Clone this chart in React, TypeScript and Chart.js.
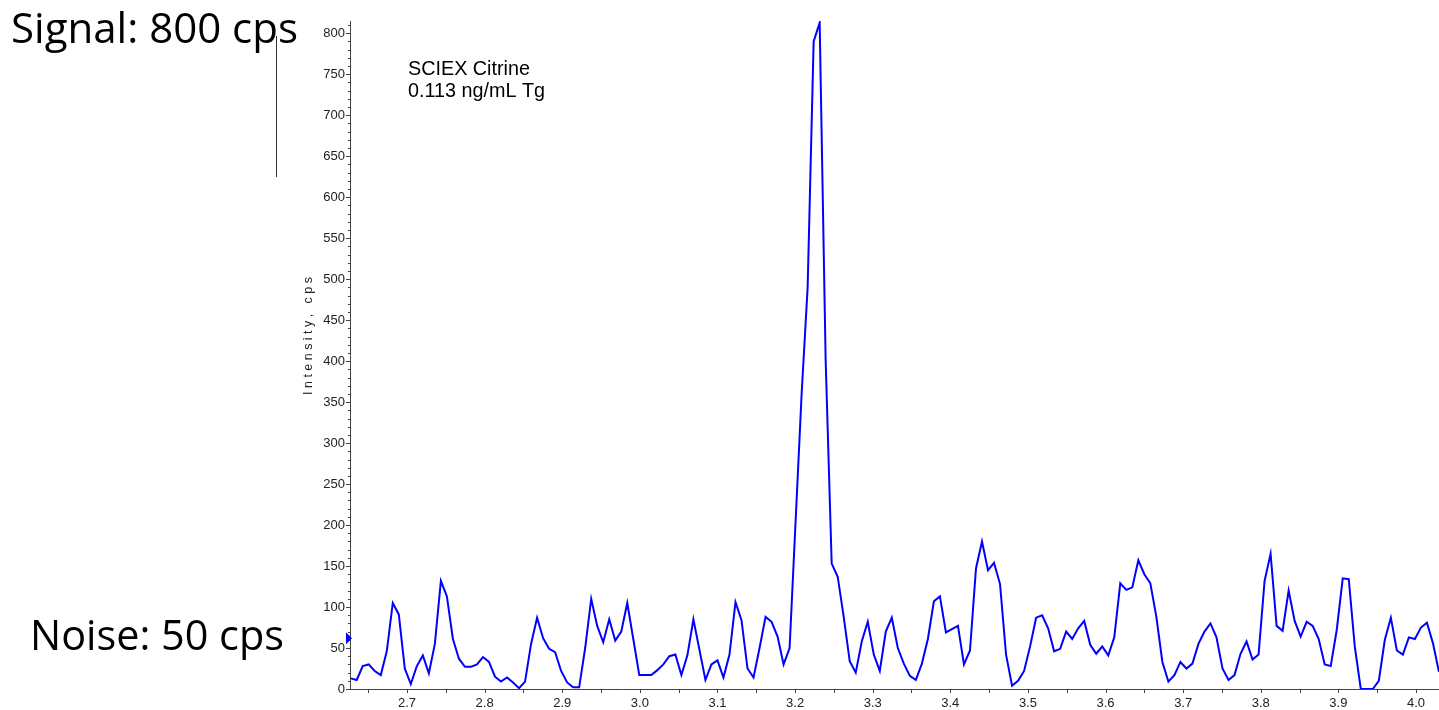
import React, { useEffect, useRef } from "react";
import { Chart, registerables } from "chart.js";

Chart.register(...registerables);

// Intensity (cps) of each scan
const intensity: number[] = [
  13, 11, 28, 30, 22, 17, 46, 105, 91, 25,
  6, 28, 41, 19, 55, 132, 113, 61, 37, 27,
  27, 30, 39, 33, 15, 9, 14, 8, 1, 9,
  55, 87, 62, 49, 45, 22, 8, 2, 2, 50,
  110, 77, 57, 85, 59, 70, 105, 61, 17, 17,
  17, 23, 30, 40, 42, 17, 41, 85, 48, 11,
  30, 35, 14, 42, 106, 84, 25, 14, 50, 88,
  82, 64, 30, 50, 205, 360, 490, 790, 813, 400,
  153, 137, 88, 34, 20, 58, 82, 42, 22, 70,
  87, 50, 31, 16, 11, 31, 61, 107, 113, 69,
  73, 77, 30, 47, 147, 180, 145, 154, 128, 42,
  4, 10, 22, 52, 87, 90, 74, 46, 49, 70,
  61, 74, 83, 54, 43, 52, 41, 63, 129, 121,
  124, 157, 140, 129, 88, 33, 9, 17, 33, 25,
  31, 55, 70, 80, 63, 25, 11, 17, 43, 58,
  36, 42, 132, 165, 77, 71, 120, 83, 64, 82,
  77, 61, 30, 28, 72, 135, 134, 52, 0, 0,
  0, 10, 60, 87, 47, 42, 63, 61, 75, 81,
  56, 21,
];

// acquisition timing (min)
const startTime = 2.6275;
const scanInterval = 0.007746;

const xRange = [2.6266, 4.0296];
const yRange = [0, 815];
const xMajorStep = 0.1;
const xMinorStep = 0.05;
const yMajorStep = 50;
const yMinorStep = 10;

const annotationLines = ["SCIEX Citrine", "0.113 ng/mL Tg"];
const signalLabel = "Signal: 800 cps";
const noiseLabel = "Noise: 50 cps";
const yAxisTitle = "I n t e n s i t y ,   c p s";
const markerValue = 62;

const AXIS_COLOR = "#444";
const TEXT_COLOR = "#222";
const LINE_COLOR = "#0000ff";

function fitFont(ctx: CanvasRenderingContext2D, text: string, family: string, width: number) {
  ctx.font = `40px ${family}`;
  const w = ctx.measureText(text).width;
  return (40 * width) / w;
}

const decorations = {
  id: "decorations",
  afterDraw(chart: any) {
    const { ctx, scales } = chart;
    const x = scales.x;
    const y = scales.y;
    const area = chart.chartArea;
    ctx.save();
    ctx.strokeStyle = AXIS_COLOR;
    ctx.lineWidth = 1;
    // y ticks
    const yCount = Math.floor(y.max / yMinorStep);
    for (let i = 0; i <= yCount; i++) {
      const v = i * yMinorStep;
      const py = Math.round(y.getPixelForValue(v)) + 0.5;
      const len = v % yMajorStep === 0 ? 4 : 2;
      ctx.beginPath();
      ctx.moveTo(area.left - len, py);
      ctx.lineTo(area.left, py);
      ctx.stroke();
    }
    // x ticks
    const i0 = Math.ceil(x.min / xMinorStep - 1e-9);
    const i1 = Math.floor(x.max / xMinorStep + 1e-9);
    for (let i = i0; i <= i1; i++) {
      const px = Math.round(x.getPixelForValue(i * xMinorStep)) + 0.5;
      ctx.beginPath();
      ctx.moveTo(px, area.bottom);
      ctx.lineTo(px, area.bottom + 4);
      ctx.stroke();
    }
    // marker triangle
    const my = y.getPixelForValue(markerValue);
    ctx.fillStyle = LINE_COLOR;
    ctx.beginPath();
    ctx.moveTo(area.left - 4, my - 6);
    ctx.lineTo(area.left - 4, my + 6);
    ctx.lineTo(area.left + 2, my);
    ctx.closePath();
    ctx.fill();

    // y axis title
    const sansFam = "'Liberation Sans', Arial, sans-serif";
    const tSize = fitFont(ctx, yAxisTitle, sansFam, 118);
    ctx.fillStyle = TEXT_COLOR;
    ctx.font = `${tSize}px ${sansFam}`;
    ctx.textAlign = "center";
    ctx.textBaseline = "middle";
    ctx.save();
    ctx.translate(309, 336);
    ctx.rotate(-Math.PI / 2);
    ctx.fillText(yAxisTitle, 0, 0);
    ctx.restore();

    // annotation
    const aSize = fitFont(ctx, annotationLines[0], sansFam, 122);
    ctx.font = `${aSize}px ${sansFam}`;
    ctx.fillStyle = "#000";
    ctx.textAlign = "left";
    ctx.textBaseline = "alphabetic";
    ctx.fillText(annotationLines[0], 408, 75);
    ctx.fillText(annotationLines[1], 408, 97);

    // big labels
    const bigFam = "'Open Sans', 'Noto Sans', sans-serif";
    const sSize = fitFont(ctx, signalLabel, bigFam, 287);
    ctx.font = `${sSize}px ${bigFam}`;
    ctx.fillText(signalLabel, 11, 43);
    const nSize = fitFont(ctx, noiseLabel, bigFam, 254);
    ctx.font = `${nSize}px ${bigFam}`;
    ctx.fillText(noiseLabel, 30, 650);

    // vertical bar under signal label
    ctx.strokeStyle = "#333";
    ctx.lineWidth = 1;
    ctx.beginPath();
    ctx.moveTo(276.5, 36);
    ctx.lineTo(276.5, 177);
    ctx.stroke();
    ctx.restore();
  },
};

export default function App() {
  const canvasRef = useRef<HTMLCanvasElement | null>(null);

  useEffect(() => {
    const canvas = canvasRef.current;
    if (!canvas) return;
    const points = intensity.map((v, i) => ({ x: startTime + i * scanInterval, y: v }));
    const chart = new Chart(canvas, {
      type: "line",
      data: {
        datasets: [
          {
            data: points,
            borderColor: LINE_COLOR,
            borderWidth: 2,
            pointRadius: 0,
            tension: 0,
            fill: false,
          },
        ],
      },
      options: {
        responsive: false,
        animation: false,
        devicePixelRatio: 1,
        layout: { padding: { top: 21, right: 0, bottom: 0, left: 0 } },
        plugins: { legend: { display: false }, tooltip: { enabled: false }, title: { display: false } },
        scales: {
          x: {
            type: "linear",
            min: xRange[0],
            max: xRange[1],
            grid: { display: false, drawTicks: false },
            border: { display: true, color: AXIS_COLOR, width: 1 },
            ticks: {
              stepSize: xMajorStep,
              includeBounds: false,
              autoSkip: false,
              maxRotation: 0,
              padding: 7,
              color: TEXT_COLOR,
              font: { family: "'Liberation Sans', Arial, sans-serif", size: 13 },
              callback: (v: any) => Number(v).toFixed(1),
            },
            afterFit: (s: any) => {
              s.height = 21;
            },
          },
          y: {
            type: "linear",
            min: yRange[0],
            max: yRange[1],
            grid: { display: false, drawTicks: false },
            border: { display: true, color: AXIS_COLOR, width: 1 },
            ticks: {
              stepSize: yMajorStep,
              includeBounds: false,
              autoSkip: false,
              padding: 5,
              color: TEXT_COLOR,
              font: { family: "'Liberation Sans', Arial, sans-serif", size: 13 },
              callback: (v: any) => String(v),
            },
            afterFit: (s: any) => {
              s.width = 350;
            },
          },
        },
      },
      plugins: [decorations],
    });
    return () => chart.destroy();
  }, []);

  return (
    <div style={{ position: "absolute", left: 0, top: 0, width: 1439, height: 710, background: "#fff" }}>
      <canvas ref={canvasRef} width={1439} height={710} style={{ display: "block" }} />
    </div>
  );
}
